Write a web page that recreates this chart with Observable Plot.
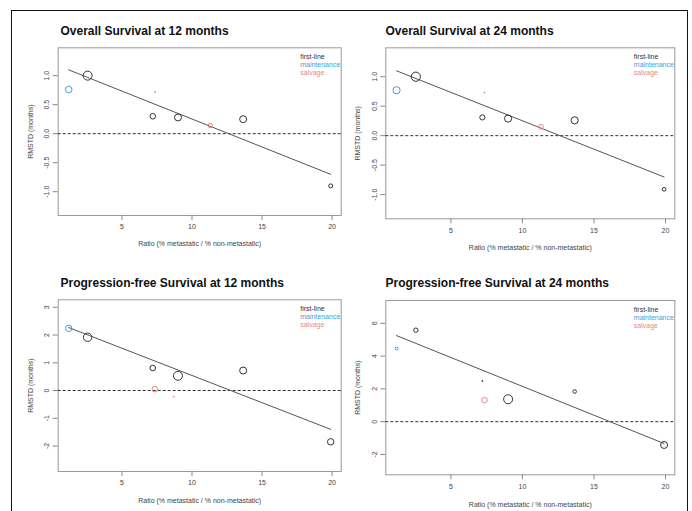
<!DOCTYPE html>
<html><head><meta charset="utf-8">
<script src="https://cdn.jsdelivr.net/npm/d3@7"></script>
<script src="https://cdn.jsdelivr.net/npm/@observablehq/plot@0.6"></script>
<style>
body{margin:0;background:#fff;}
#root{position:relative;width:692px;height:511px;overflow:hidden;font-family:"Liberation Sans",Arial,sans-serif;background:#fff;}
.frame{position:absolute;left:10.5px;top:9.5px;width:675px;height:520px;border:1.3px solid #111;border-bottom:none;}
.title{position:absolute;font-weight:bold;font-size:12px;line-height:12px;color:#111;white-space:nowrap;}
</style></head><body><div id="root"><div class="frame"></div></div>
<script>
// ---- shared ----
const groups = ["first-line", "maintenance", "salvage"];
const groupColors = ["#333333", "#3d9fdf", "#e9867c"];
const xTicks = [5, 10, 15, 20];
const xDomain = [0.45, 20.65];
const xLabel = "Ratio (% metastatic / % non-metastatic)";
const yLabel = "RMSTD (months)";

// ---- Overall Survival at 12 months ----
const os12Title = "Overall Survival at 12 months";
const os12Ratio = [1.2, 2.55, 7.35, 7.2, 9.0, 11.3, 13.65, 19.9];
const os12Rmstd = [0.76, 1.00, 0.72, 0.30, 0.28, 0.14, 0.25, -0.90];
const os12Line = ["maintenance", "first-line", "salvage", "first-line", "first-line", "salvage", "first-line", "first-line"];
const os12Weight = [3.3, 4.5, 0.6, 2.8, 3.5, 2.2, 3.5, 2.0];
const os12Fit = [1.2155, -0.0963]; // intercept, slope
const os12YTicks = [-1, -0.5, 0, 0.5, 1];
const os12YDomain = [-1.41, 1.48];

// ---- Overall Survival at 24 months ----
const os24Title = "Overall Survival at 24 months";
const os24Ratio = [1.2, 2.55, 7.35, 7.2, 9.0, 11.3, 13.65, 19.9];
const os24Rmstd = [0.77, 1.00, 0.73, 0.31, 0.29, 0.15, 0.26, -0.91];
const os24Line = ["maintenance", "first-line", "salvage", "first-line", "first-line", "salvage", "first-line", "first-line"];
const os24Weight = [3.6, 4.6, 0.6, 2.6, 3.6, 2.3, 3.6, 1.9];
const os24Fit = [1.2155, -0.0963];
const os24YTicks = [-1, -0.5, 0, 0.5, 1];
const os24YDomain = [-1.41, 1.49];

// ---- Progression-free Survival at 12 months ----
const pfs12Title = "Progression-free Survival at 12 months";
const pfs12Ratio = [1.2, 2.55, 7.2, 7.35, 9.0, 8.7, 13.65, 19.9];
const pfs12Rmstd = [2.24, 1.92, 0.81, 0.05, 0.53, -0.22, 0.72, -1.85];
const pfs12Line = ["maintenance", "first-line", "first-line", "salvage", "first-line", "salvage", "first-line", "first-line"];
const pfs12Weight = [3.2, 4.2, 2.8, 2.8, 4.5, 0.6, 3.5, 3.2];
const pfs12Fit = [2.5055, -0.1963];
const pfs12YTicks = [-2, -1, 0, 1, 2, 3];
const pfs12YDomain = [-2.92, 3.27];

// ---- Progression-free Survival at 24 months ----
const pfs24Title = "Progression-free Survival at 24 months";
const pfs24Ratio = [1.2, 2.55, 7.2, 7.35, 9.0, 13.65, 19.9];
const pfs24Rmstd = [4.46, 5.58, 2.48, 1.31, 1.37, 1.84, -1.42];
const pfs24Line = ["maintenance", "first-line", "first-line", "salvage", "first-line", "first-line", "first-line"];
const pfs24Weight = [1.5, 2.2, 0.6, 2.8, 4.5, 1.8, 3.5];
const pfs24Fit = [5.672, -0.3519];
const pfs24YTicks = [-2, 0, 2, 4, 6];
const pfs24YDomain = [-3.24, 7.39];

const root = document.getElementById("root");

function drawPanel(cfg) {
  const data = cfg.ratio.map((x, i) => ({x, y: cfg.rmstd[i], g: cfg.line[i], w: cfg.weight[i]}));
  const ext = d3.extent(cfg.ratio);
  const fit = ext.map(x => ({x, y: cfg.fit[0] + cfg.fit[1] * x}));
  const legendMarks = groups.map((g, i) =>
    Plot.text([g], {text: d => d, frameAnchor: "top-right", textAnchor: "start", lineAnchor: "middle",
      dx: -41, dy: 9 + 8 * i, fill: groupColors[i], fontSize: 7}));
  const svg = Plot.plot({
    width: cfg.w, height: cfg.h,
    marginLeft: cfg.ml, marginRight: cfg.mr, marginTop: cfg.mt, marginBottom: cfg.mb,
    style: {fontFamily: "'Liberation Sans', Arial, sans-serif", fontSize: "7px", background: "transparent", overflow: "visible"},
    x: {domain: xDomain},
    y: {domain: cfg.yDomain},
    color: {domain: groups, range: groupColors},
    r: {type: "linear", domain: [0, 5], range: [0, 5]},
    marks: [
      Plot.frame({stroke: "#999"}),
      Plot.axisX({ticks: xTicks, tickSize: 5, tickPadding: 4, stroke: "#888", fill: "#444", label: null, tickFormat: d => String(d)}),
      Plot.axisY({ticks: cfg.yTicks, tickSize: 5, tickPadding: 4, tickRotate: -90, stroke: "#888", fill: "#444", label: null, tickFormat: cfg.fmt}),
      Plot.ruleY([0], {stroke: "#333", strokeDasharray: "3,2"}),
      Plot.line(fit, {x: "x", y: "y", stroke: "#555", strokeWidth: 1}),
      Plot.dot(data, {x: "x", y: "y", r: "w", stroke: "g", fill: "none", strokeWidth: 1}),
      ...legendMarks,
      Plot.text([xLabel], {text: d => d, frameAnchor: "bottom", dy: cfg.xlab, lineAnchor: "middle", fill: "#444", fontSize: 7}),
      Plot.text([yLabel], {text: d => d, frameAnchor: "left", dx: cfg.ylab, rotate: -90, lineAnchor: "middle", textAnchor: "middle", fill: "#444", fontSize: 7})
    ]
  });
  svg.style.position = "absolute";
  svg.style.left = cfg.left + "px";
  svg.style.top = cfg.top + "px";
  root.appendChild(svg);
  const t = document.createElement("div");
  t.className = "title";
  t.textContent = cfg.title;
  t.style.left = cfg.tx + "px";
  t.style.top = cfg.ty + "px";
  root.appendChild(t);
}

const fmt1 = d => d.toFixed(1);
const fmt0 = d => String(d);

drawPanel({title: os12Title, ratio: os12Ratio, rmstd: os12Rmstd, line: os12Line, weight: os12Weight, fit: os12Fit,
  yTicks: os12YTicks, yDomain: os12YDomain, fmt: fmt1,
  left: 0, top: 40, w: 346, h: 216, ml: 57.7, mr: 5.3, mt: 7.3, mb: 41, xlab: 28.3, ylab: -27.7, tx: 60.5, ty: 25});
drawPanel({title: os24Title, ratio: os24Ratio, rmstd: os24Rmstd, line: os24Line, weight: os24Weight, fit: os24Fit,
  yTicks: os24YTicks, yDomain: os24YDomain, fmt: fmt1,
  left: 346, top: 40, w: 346, h: 216, ml: 39.3, mr: 17.7, mt: 7.3, mb: 37.7, xlab: 29, ylab: -28.5, tx: 385.5, ty: 25.3});
drawPanel({title: pfs12Title, ratio: pfs12Ratio, rmstd: pfs12Rmstd, line: pfs12Line, weight: pfs12Weight, fit: pfs12Fit,
  yTicks: pfs12YTicks, yDomain: pfs12YDomain, fmt: fmt0,
  left: 0, top: 292, w: 346, h: 219, ml: 57.7, mr: 5.3, mt: 7.3, mb: 40, xlab: 29, ylab: -27.7, tx: 60.5, ty: 276.5});
drawPanel({title: pfs24Title, ratio: pfs24Ratio, rmstd: pfs24Rmstd, line: pfs24Line, weight: pfs24Weight, fit: pfs24Fit,
  yTicks: pfs24YTicks, yDomain: pfs24YDomain, fmt: fmt0,
  left: 346, top: 292, w: 346, h: 219, ml: 39.3, mr: 17.7, mt: 8, mb: 36.7, xlab: 30, ylab: -28.5, tx: 385.5, ty: 276.8});
</script></body></html>
